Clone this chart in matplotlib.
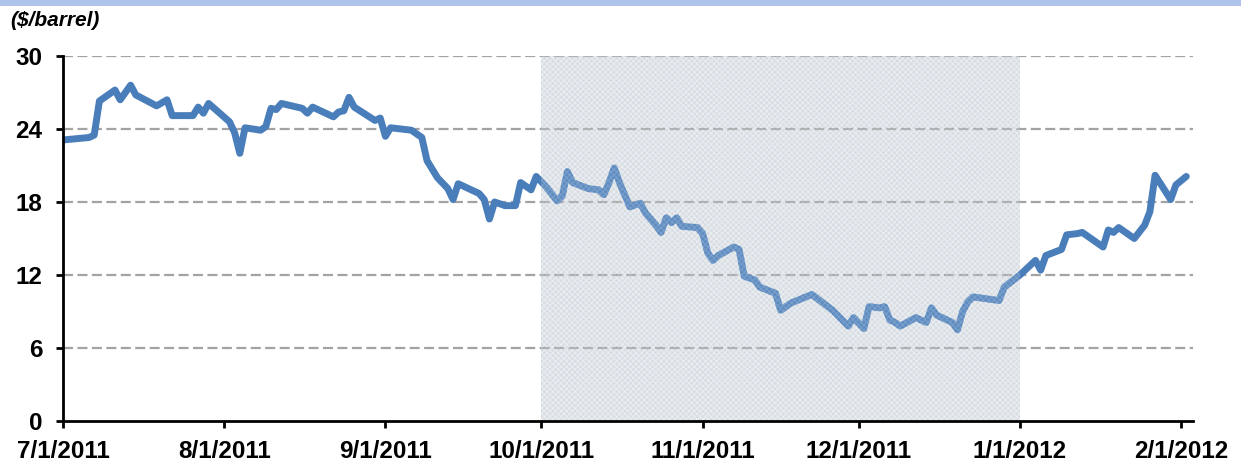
import matplotlib
matplotlib.use("Agg")
import matplotlib.pyplot as plt
import matplotlib.dates as mdates
import pandas as pd
from matplotlib.patches import Rectangle

plt.rcParams['font.family'] = ['Liberation Sans', 'DejaVu Sans']
plt.rcParams['hatch.linewidth'] = 0.7

# Price spread ($/barrel)
dates = [
    "2011-07-01", "2011-07-06", "2011-07-07", "2011-07-08", "2011-07-11", "2011-07-12",
    "2011-07-14", "2011-07-15", "2011-07-19", "2011-07-21", "2011-07-22", "2011-07-26",
    "2011-07-27", "2011-07-28", "2011-07-29", "2011-08-02", "2011-08-03", "2011-08-04",
    "2011-08-05", "2011-08-08", "2011-08-09", "2011-08-10", "2011-08-11", "2011-08-12",
    "2011-08-16", "2011-08-17", "2011-08-18", "2011-08-22", "2011-08-23", "2011-08-24",
    "2011-08-25", "2011-08-26", "2011-08-30", "2011-08-31", "2011-09-01", "2011-09-02",
    "2011-09-06", "2011-09-08", "2011-09-09", "2011-09-11", "2011-09-13", "2011-09-14",
    "2011-09-15", "2011-09-19", "2011-09-20", "2011-09-21", "2011-09-22", "2011-09-24",
    "2011-09-26", "2011-09-27", "2011-09-29", "2011-09-30", "2011-10-02", "2011-10-04",
    "2011-10-05", "2011-10-06", "2011-10-07", "2011-10-10", "2011-10-12", "2011-10-13",
    "2011-10-14", "2011-10-15", "2011-10-16", "2011-10-17", "2011-10-18", "2011-10-20",
    "2011-10-21", "2011-10-23", "2011-10-24", "2011-10-25", "2011-10-26", "2011-10-27",
    "2011-10-28", "2011-10-31", "2011-11-01", "2011-11-02", "2011-11-03", "2011-11-04",
    "2011-11-07", "2011-11-08", "2011-11-09", "2011-11-11", "2011-11-12", "2011-11-15",
    "2011-11-16", "2011-11-18", "2011-11-22", "2011-11-26", "2011-11-29", "2011-11-30",
    "2011-12-02", "2011-12-03", "2011-12-05", "2011-12-06", "2011-12-07", "2011-12-08",
    "2011-12-09", "2011-12-12", "2011-12-14", "2011-12-15", "2011-12-16", "2011-12-19",
    "2011-12-20", "2011-12-21", "2011-12-22", "2011-12-23", "2011-12-28", "2011-12-29",
    "2012-01-01", "2012-01-04", "2012-01-05", "2012-01-06", "2012-01-09", "2012-01-10",
    "2012-01-12", "2012-01-13", "2012-01-17", "2012-01-18", "2012-01-19", "2012-01-20",
    "2012-01-23", "2012-01-25", "2012-01-26", "2012-01-27", "2012-01-30", "2012-01-31",
    "2012-02-02",
]
spread = [
    23.1, 23.3, 23.5, 26.3, 27.2, 26.4,
    27.6, 26.8, 25.9, 26.4, 25.1, 25.1,
    25.8, 25.3, 26.1, 24.6, 23.7, 22.0,
    24.1, 23.9, 24.2, 25.7, 25.6, 26.1,
    25.7, 25.3, 25.8, 25.0, 25.4, 25.5,
    26.6, 25.8, 24.7, 24.9, 23.4, 24.1,
    23.9, 23.3, 21.4, 20.0, 19.1, 18.2,
    19.5, 18.7, 18.2, 16.6, 18.0, 17.7,
    17.7, 19.6, 19.0, 20.1, 19.2, 18.1,
    18.5, 20.5, 19.6, 19.1, 19.0, 18.6,
    19.6, 20.8, 19.6, 18.6, 17.6, 17.9,
    17.1, 16.1, 15.5, 16.7, 16.3, 16.7,
    16.0, 15.9, 15.4, 13.8, 13.2, 13.6,
    14.3, 14.1, 11.9, 11.6, 11.0, 10.5,
    9.1, 9.7, 10.4, 9.1, 7.8, 8.5,
    7.6, 9.4, 9.3, 9.4, 8.3, 8.1,
    7.8, 8.5, 8.1, 9.3, 8.7, 8.1,
    7.5, 9.0, 9.8, 10.2, 9.9, 11.0,
    12.0, 13.2, 12.4, 13.6, 14.1, 15.3,
    15.4, 15.5, 14.3, 15.7, 15.5, 15.9,
    15.0, 16.1, 17.2, 20.2, 18.2, 19.4,
    20.1,
]

shade_start = "2011-10-01"
shade_end = "2012-01-01"
x_start = "2011-07-01"
x_end = "2012-02-03 07:00"
month_ticks = ["2011-07-01", "2011-08-01", "2011-09-01", "2011-10-01",
               "2011-11-01", "2011-12-01", "2012-01-01", "2012-02-01"]
y_ticks = [0, 6, 12, 18, 24, 30]

dt = pd.to_datetime(dates)

fig = plt.figure(figsize=(12.41, 4.66), dpi=100)
ax = fig.add_axes([63 / 1241, 45 / 466, (1193 - 63) / 1241, (421 - 56) / 466])

# header band across the top of the figure
fig.patches.append(Rectangle((0, 1 - 6 / 466), 1, 6 / 466, transform=fig.transFigure,
                             facecolor="#aec3eb", edgecolor="none", zorder=0))

# shaded period with a fine dotted texture
ax.axvspan(pd.Timestamp(shade_start), pd.Timestamp(shade_end),
           facecolor="#d8dee4", edgecolor="none", zorder=0.5)
ax.axvspan(pd.Timestamp(shade_start), pd.Timestamp(shade_end),
           facecolor="none", edgecolor="#eef1f4", hatch="xxxxxx", linewidth=0,
           zorder=0.6)

# dashed horizontal gridlines
for yv in y_ticks[1:]:
    ax.axhline(yv, color="#a3a3a3", linewidth=1.6, linestyle=(0, (4.5, 2)), zorder=1)

ax.plot(dt, spread, color="#4a7ebb", linewidth=5.0, solid_capstyle="round",
        solid_joinstyle="round", zorder=2)

# light veil over the series inside the shaded period
ax.axvspan(pd.Timestamp(shade_start), pd.Timestamp(shade_end),
           facecolor="#d8dee4", alpha=0.15, edgecolor="none", zorder=3)
ax.axvspan(pd.Timestamp(shade_start), pd.Timestamp(shade_end),
           facecolor="none", edgecolor="#eef1f4", hatch="xxxxxx", linewidth=0,
           alpha=0.2, zorder=3)

ax.set_xlim(pd.Timestamp(x_start), pd.Timestamp(x_end))
ax.set_ylim(0, 30)
ax.set_yticks(y_ticks)
ax.set_xticks(pd.to_datetime(month_ticks))
ax.xaxis.set_major_formatter(mdates.DateFormatter("%-m/%-d/%Y"))

for side in ("top", "right"):
    ax.spines[side].set_visible(False)
for side in ("left", "bottom"):
    ax.spines[side].set_linewidth(2)
    ax.spines[side].set_color("black")
    ax.spines[side].set_zorder(5)

ax.tick_params(axis="both", direction="out", length=5, width=2, color="black",
               labelsize=17.5)
ax.tick_params(axis="y", pad=10)
ax.tick_params(axis="x", pad=9)
for lbl in ax.get_xticklabels() + ax.get_yticklabels():
    lbl.set_fontweight("bold")

fig.text(10 / 1241, 1 - 20 / 466, "($/barrel)", fontsize=15, fontweight="bold",
         fontstyle="italic", ha="left", va="center")

fig.savefig("out.png", dpi=100)
